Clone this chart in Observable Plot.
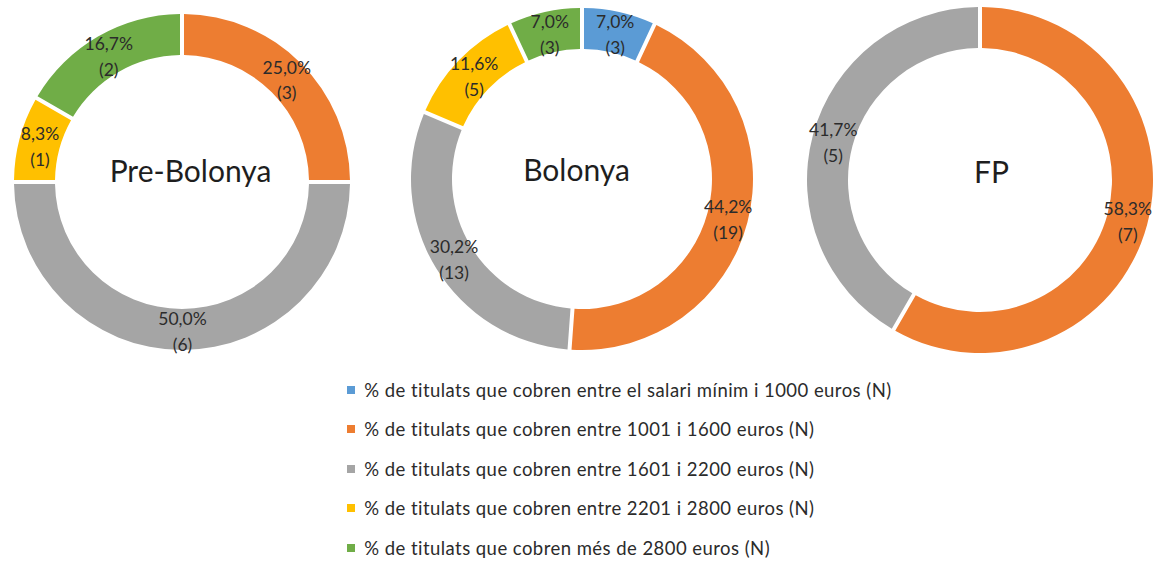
<!DOCTYPE html>
<html>
<head>
<meta charset="utf-8">
<script src="https://cdn.jsdelivr.net/npm/d3@7"></script>
<script src="https://cdn.jsdelivr.net/npm/@observablehq/plot@0.6"></script>
<style>
  html, body { margin: 0; padding: 0; background: #fff; }
  #chart { width: 1159px; }
  .lg-swatches-columns .lg-swatch { height: 39.5px !important; padding-bottom: 0 !important; display: flex !important; align-items: center !important; }
  .lg-swatches { margin-bottom: 0 !important; }
  .lg-swatch-label, .lg-swatch > div, .lg-swatch > span { letter-spacing: 0.45px; }
</style>
</head>
<body>
<div id="chart"></div>
<script>
// ---- data ----
const categories = [
  "% de titulats que cobren entre el salari mínim i 1000 euros (N)",
  "% de titulats que cobren entre 1001 i 1600 euros (N)",
  "% de titulats que cobren entre 1601 i 2200 euros (N)",
  "% de titulats que cobren entre 2201 i 2800 euros (N)",
  "% de titulats que cobren més de 2800 euros (N)"
];
const groups = ["Pre-Bolonya", "Bolonya", "FP"];
const preBolonya = [0, 3, 6, 1, 2];
const bolonya = [3, 19, 13, 5, 3];
const fp = [0, 7, 5, 0, 0];
const colors = ["#5B9BD5", "#ED7D31", "#A5A5A5", "#FFC000", "#70AD47"];

// ---- layout (pixel positions, not data) ----
const W = 1159, H = 370;
const layout = [
  {cx: 182, cy: 182, r: 168, tx: 190, ty: 172},
  {cx: 582, cy: 179, r: 171, tx: 576, ty: 171},
  {cx: 980, cy: 180, r: 173, tx: 991, ty: 173}
];
const ringWidth = 41;
const gap = 4;

const counts = [preBolonya, bolonya, fp];
const color = Plot.scale({color: {domain: categories, range: colors}});
const fmt = v => (v * 100).toFixed(1).replace(".", ",") + "%";

// build slices
const slices = [];
counts.forEach((vals, gi) => {
  const rows = vals.map((n, i) => ({group: groups[gi], cat: categories[i], n}));
  const total = d3.sum(vals);
  const L = layout[gi];
  const arc = d3.arc()
    .innerRadius(L.r - ringWidth).outerRadius(L.r)
    .padRadius(L.r).padAngle(gap / L.r);
  d3.pie().sort(null).value(d => d.n)(rows).forEach(a => {
    if (a.data.n <= 0) return;
    const [dx, dy] = arc.centroid(a);
    slices.push({
      ...a.data, gi, a, arc,
      lx: L.cx + dx, ly: L.cy + dy,
      label: fmt(a.data.n / total) + "\n(" + a.data.n + ")"
    });
  });
});

const titles = groups.map((g, gi) => ({g, x: layout[gi].tx, y: layout[gi].ty}));

const plot = Plot.plot({
  width: W, height: H,
  margin: 0,
  x: {domain: [0, W], range: [0, W], axis: null},
  y: {domain: [0, H], range: [0, H], axis: null},
  style: {fontFamily: "Lato, sans-serif", background: "#fff"},
  marks: [
    (index, scales) => {
      const g = d3.create("svg:g");
      for (const s of slices) {
        const L = layout[s.gi];
        g.append("path")
          .attr("transform", `translate(${scales.x(L.cx)},${scales.y(L.cy)})`)
          .attr("d", s.arc(s.a))
          .attr("fill", color.apply(s.cat));
      }
      return g.node();
    },
    Plot.text(slices, {
      x: "lx", y: "ly", text: "label",
      fontSize: 17.5, lineHeight: 1.48, fill: "#2b2b2b",
      fontFamily: "Lato, sans-serif"
    }),
    Plot.text(titles, {
      x: "x", y: "y", text: "g",
      fontSize: 30, fill: "#1e1e1e",
      fontFamily: "Lato, sans-serif"
    })
  ]
});

const legend = Plot.legend({
  color: {domain: categories, range: colors},
  legend: "swatches",
  columns: 1,
  swatchSize: 8,
  marginLeft: 347,
  className: "lg",
  style: {fontFamily: "Lato, sans-serif", fontSize: "18.5px", color: "#2b2b2b"}
});

const chart = document.getElementById("chart");
chart.append(plot);
chart.append(legend);
</script>
</body>
</html>
